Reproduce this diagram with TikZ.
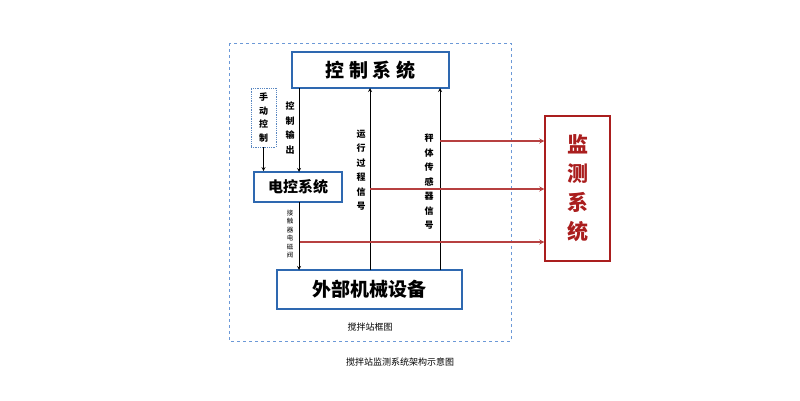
\documentclass[tikz,border=0pt]{standalone}
\usepackage{fontspec}
\newfontfamily\cjk{Noto Sans CJK SC}
\usetikzlibrary{positioning}
\definecolor{boxblue}{RGB}{46,104,176}
\definecolor{monred}{RGB}{170,30,30}
\begin{document}
\begin{tikzpicture}[x=1pt,y=-1pt,
  sysbox/.style={draw=boxblue, line width=1.8pt, fill=white, font=\cjk},
  sig/.style={->,>=stealth,thick},
  mon/.style={->,>=stealth,line width=1.2pt,draw=monred!85},
  vtxt/.style={font=\cjk\fontsize{9}{14.5}\selectfont\bfseries, align=center}]
\useasboundingbox (0,0) rectangle (800,400);

% frame
\draw[dashed, draw=cyan!50!blue!60] (229,43) rectangle (511,341);
\node[font=\cjk\fontsize{9}{10}\selectfont] (frame) at (370,327) {搅拌站框图};
\node[font=\cjk\fontsize{9}{10}\selectfont] (caption) at (400,362) {搅拌站监测系统架构示意图};

% boxes
\node[sysbox, minimum width=157, minimum height=36, font=\cjk\fontsize{19}{20}\selectfont\bfseries] (ctrl) at (370.5,70) {控\ 制\ 系\ 统};
\node[sysbox, minimum width=88, minimum height=30, font=\cjk\fontsize{15}{16}\selectfont\bfseries] (elec) at (298,187) {电控系统};
\node[sysbox, minimum width=185, minimum height=39, font=\cjk\fontsize{19}{20}\selectfont\bfseries] (ext) at (369.5,289.5) {外部机械设备};
\node[draw=monred, line width=1.4pt, minimum width=65, minimum height=145, font=\cjk\fontsize{21}{29}\selectfont\bfseries, text=monred, align=center] (mon) at (577.5,188.5) {监\\测\\系\\统};
\node[draw=boxblue!80, densely dotted, thick, minimum width=25, minimum height=59, vtxt, font=\cjk\fontsize{9}{13.5}\selectfont\bfseries] (hand) at (263.5,117.5) {手\\动\\控\\制};

% coordinates on box edges
\coordinate (c1) at (299,88);  \coordinate (e1) at (299,172);
\coordinate (e2) at (299,202); \coordinate (x1) at (299,270);
\coordinate (x2) at (370,270); \coordinate (c2) at (370,88);
\coordinate (x3) at (440,270); \coordinate (c3) at (440,88);

% signals
\draw[sig] (hand.south) -- (hand.south |- elec.north);
\draw[sig] (c1) -- (e1);
\draw[sig] (e2) -- (x1);
\draw[sig] (x2) -- (c2);
\draw[sig] (x3) -- (c3);

% to monitor
\draw[mon] (440,141) -- (mon.west |- 0,141);
\draw[mon] (370,189) -- (mon.west |- 0,189);
\draw[mon] (300,242) -- (mon.west |- 0,242);

% labels
\node[vtxt] (l1) at (290,128) {控\\制\\输\\出};
\node[vtxt] (l2) at (361,170) {运\\行\\过\\程\\信\\号};
\node[vtxt] (l3) at (429,182) {秤\\体\\传\\感\\器\\信\\号};
\node[vtxt, font=\cjk\fontsize{6.5}{8.5}\selectfont] (l4) at (290,234) {接\\触\\器\\电\\磁\\阀};
\end{tikzpicture}
\end{document}
